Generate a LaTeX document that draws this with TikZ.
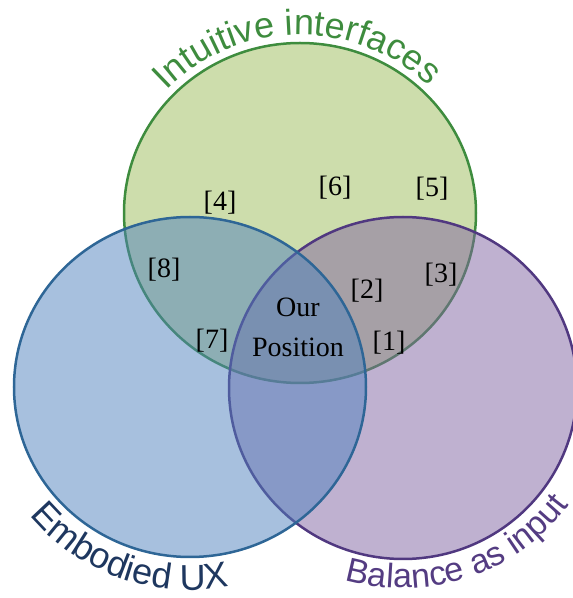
\documentclass[tikz,border=0pt]{standalone}
\usepackage{fontspec}
\setmainfont{Liberation Serif}
\setsansfont{Liberation Sans}
\usetikzlibrary{decorations.text,calc}

\definecolor{gfill}{HTML}{9BBB59}
\definecolor{bfill}{HTML}{4F81BD}
\definecolor{pfill}{HTML}{8064A2}
\definecolor{gline}{RGB}{62,140,62}
\definecolor{bline}{RGB}{46,102,150}
\definecolor{pline}{RGB}{80,56,128}
\definecolor{gtext}{RGB}{62,140,62}
\definecolor{btext}{RGB}{30,55,95}
\definecolor{ptext}{RGB}{84,60,130}

\tikzset{
  ref/.style={font=\fontsize{28}{32}\selectfont, inner sep=0pt},
  rim/.style={line width=2.5pt},
  arctext/.style={decorate, decoration={text along path, text align=center}}
}
\newcommand{\titlefont}{\sffamily\fontsize{36}{40}\selectfont}

\begin{document}
\begin{tikzpicture}[x=1pt,y=1pt]
  \useasboundingbox (0,0) rectangle (573,598);

  % set centres
  \coordinate (g) at (300,385);
  \coordinate (b) at (190,211);
  \coordinate (p) at (403,210);

  % the three sets: green below, then purple, blue on top
  \fill[gfill, fill opacity=0.5] (g) ellipse [x radius=176, y radius=170];
  \draw[gline, rim] (g) ellipse [x radius=176, y radius=170];
  \fill[pfill, fill opacity=0.5] (p) ellipse [x radius=174, y radius=171];
  \draw[pline, rim] (p) ellipse [x radius=174, y radius=171];
  \fill[bfill, fill opacity=0.5] (b) ellipse [x radius=176, y radius=170];
  \draw[bline, rim] (b) ellipse [x radius=176, y radius=170];

  % set titles along the rims
  \path[arctext, decoration={text={|\titlefont\color{gtext}|Intuitive interfaces}}]
    ($(g)+(161:184 and 178)$) arc [start angle=161, end angle=21, x radius=184, y radius=178];
  \path[arctext, decoration={text={|\titlefont\color{btext}|Embodied UX}}]
    ($(b)+(190:207 and 203)$) arc [start angle=190, end angle=310, x radius=207, y radius=203];
  \path[arctext, decoration={text={|\sffamily\fontsize{34}{38}\selectfont\color{ptext}|Balance as input}}]
    ($(p)+(229:205 and 200)$) arc [start angle=229, end angle=349, x radius=205, y radius=200];

  % references in each region
  \node[ref] (r4) at (220,395) {[4]};
  \node[ref] (r6) at (335,410) {[6]};
  \node[ref] (r5) at (432,409) {[5]};
  \node[ref] (r8) at (164,328) {[8]};
  \node[ref] (r3) at (441,323) {[3]};
  \node[ref] (r2) at (367,307) {[2]};
  \node[ref] (r7) at (212,257) {[7]};
  \node[ref] (r1) at (389,255) {[1]};
  \node[ref, align=center, font=\fontsize{28}{40}\selectfont] (ours) at (298,271) {Our\\Position};
\end{tikzpicture}
\end{document}
